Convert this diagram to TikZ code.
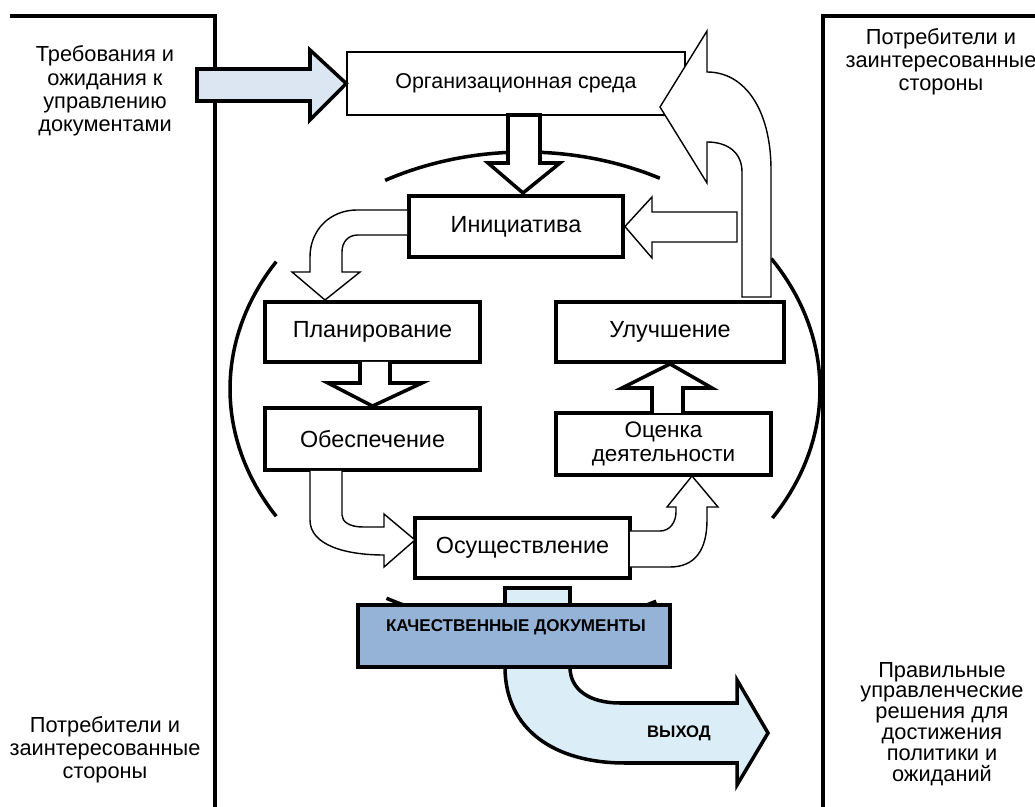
\documentclass[tikz,border=0pt]{standalone}
\usepackage{fontspec}
\setmainfont{Liberation Sans}
\definecolor{docblue}{RGB}{149,179,215}
\definecolor{outblue}{RGB}{219,238,248}
\definecolor{inblue}{RGB}{220,230,242}
\begin{document}
\begin{tikzpicture}[x=0.02cm,y=-0.02cm,
  box/.style={draw,line width=2.2pt,fill=white,minimum height=1.2cm,font=\fontsize{13.3}{13}\selectfont,align=center},
  thinbox/.style={draw,line width=0.9pt,fill=white,font=\fontsize{12.2}{12}\selectfont},
  side/.style={font=\fontsize{12.4}{13.2}\selectfont,align=center},
  fat/.style={draw,line width=2pt,fill=white},
  slim/.style={draw,line width=0.8pt,fill=white},
  frame/.style={line width=2.2pt},
  ring/.style={line width=2pt}]
  \useasboundingbox (0,0) rectangle (1035,807);
  % ring round the cycle
  \draw[ring,domain=62.8:118.3,samples=40] plot ({525+295*cos(\x)},{389-237*sin(\x)});
  \draw[ring,domain=147.5:212.5,samples=40] plot ({525+295*cos(\x)},{389-237*sin(\x)});
  \draw[ring,domain=242:296.4,samples=40] plot ({525+295*cos(\x)},{389-237*sin(\x)});
  \draw[ring,domain=-33:33.4,samples=40] plot ({525+295*cos(\x)},{389-237*sin(\x)});
  % frames
  \draw[frame] (10,16) -- (215,16) -- (215,807);
  \draw[frame] (1035,16) -- (823,16) -- (823,807);
  \node[side] (req) at (105,91) {Требования и\\ожидания к\\управлению\\документами};
  \node[side] (custtop) at (941,62) {Потребители и\\заинтересованные\\стороны};
  \node[side] (custbot) at (105,750) {Потребители и\\заинтересованные\\стороны};
  \node[side,font=\fontsize{12.4}{11.9}\selectfont] (result) at (942,724) {Правильные\\управленческие\\решения для\\достижения\\политики и\\ожиданий};
  % stages
  \node[thinbox,minimum width=6.76cm,minimum height=1.26cm] (org) at (516,83.5) {Организационная среда};
  \node[box,minimum width=4.28cm,minimum height=1.22cm] (init) at (516,226.5) {Инициатива};
  \node[box,minimum width=4.3cm] (plan) at (372.5,332) {Планирование};
  \node[box,minimum width=4.3cm,minimum height=1.24cm] (prov) at (372.5,439) {Обеспечение};
  \node[box,minimum width=4.3cm] (impl) at (522.5,548) {Осуществление};
  \node[box,minimum width=4.3cm,minimum height=1.24cm,font=\fontsize{12.8}{13.4}\selectfont] (eval) at (663.5,444) {Оценка\\деятельности};
  \node[box,minimum width=4.56cm] (impr) at (670,332) {Улучшение};
  % block arrows
  \draw[fat,fill=inblue] (197,69) -- (310,69) -- (310,50) -- (org.west) -- (310,120) -- (310,101) -- (197,101) -- cycle;
  \draw[fat] (508,115) -- (508,163) -- (488,163) -- (523,193) -- (560,163) -- (540,163) -- (540,115) -- cycle;
  \draw[fat] (360,362) -- (360,383) -- (328,383) -- (prov.north) -- (422,383) -- (390,383) -- (390,362);
  \draw[fat] (652,413) -- (652,388) -- (622,388) -- (impr.south) -- (712,388) -- (683,388) -- (683,413);
  \draw[slim] (737,212) -- (652,212) -- (652,197) -- (init.east) -- (652,258) -- (652,242) -- (737,242) -- cycle;
  \draw[slim] (init.west |- 0,210) -- (357,210) .. controls (330,210) and (310,230) .. (310,257) -- (310,272) -- (292,272) -- (325,300) -- (360,272) -- (342,272) -- (342,252) .. controls (342,242) and (348,235) .. (358,235) -- (init.west |- 0,235);
  \draw[slim] (310,471) -- (310,520) .. controls (310,545) and (345,555) .. (384,555) -- (384,567) -- (415,540) -- (384,514) -- (384,527) -- (363,527) .. controls (350,527) and (342,522) .. (342,515) -- (342,471);
  \draw[slim] (630,531) -- (660,531) .. controls (670,531) and (676,522) .. (676,512) -- (676,507) -- (667,507) -- (692,476) -- (718,507) -- (707,507) -- (707,520) .. controls (707,550) and (695,567) .. (670,567) -- (630,567);
  \draw[slim] (742,297) -- (742,172) .. controls (742,152) and (727,142) .. (707,142) -- (707,183) -- (660,107) -- (707,31) -- (707,72) .. controls (745,72) and (771,110) .. (771,170) -- (771,297) -- cycle;
  % output
  \draw[fat,fill=outblue] (505,588) rectangle (570,620);
  \draw[fat,fill=outblue] (505,640) -- (505,667) .. controls (505,730) and (555,763) .. (625,763) -- (737,763) -- (737,785) -- (768,733) -- (737,680) -- (737,703) -- (620,703) .. controls (590,703) and (570,690) .. (570,667) -- (570,640);
  \node[draw,line width=2pt,fill=docblue,minimum width=6.24cm,minimum height=1.24cm] (docs) at (514,636) {};
  \node[font=\fontsize{9.7}{9.7}\selectfont\bfseries] (docstext) at (516,627) {КАЧЕСТВЕННЫЕ ДОКУМЕНТЫ};
  \node[font=\fontsize{9.5}{9.5}\selectfont\bfseries] (out) at (679,733) {ВЫХОД};
\end{tikzpicture}
\end{document}
